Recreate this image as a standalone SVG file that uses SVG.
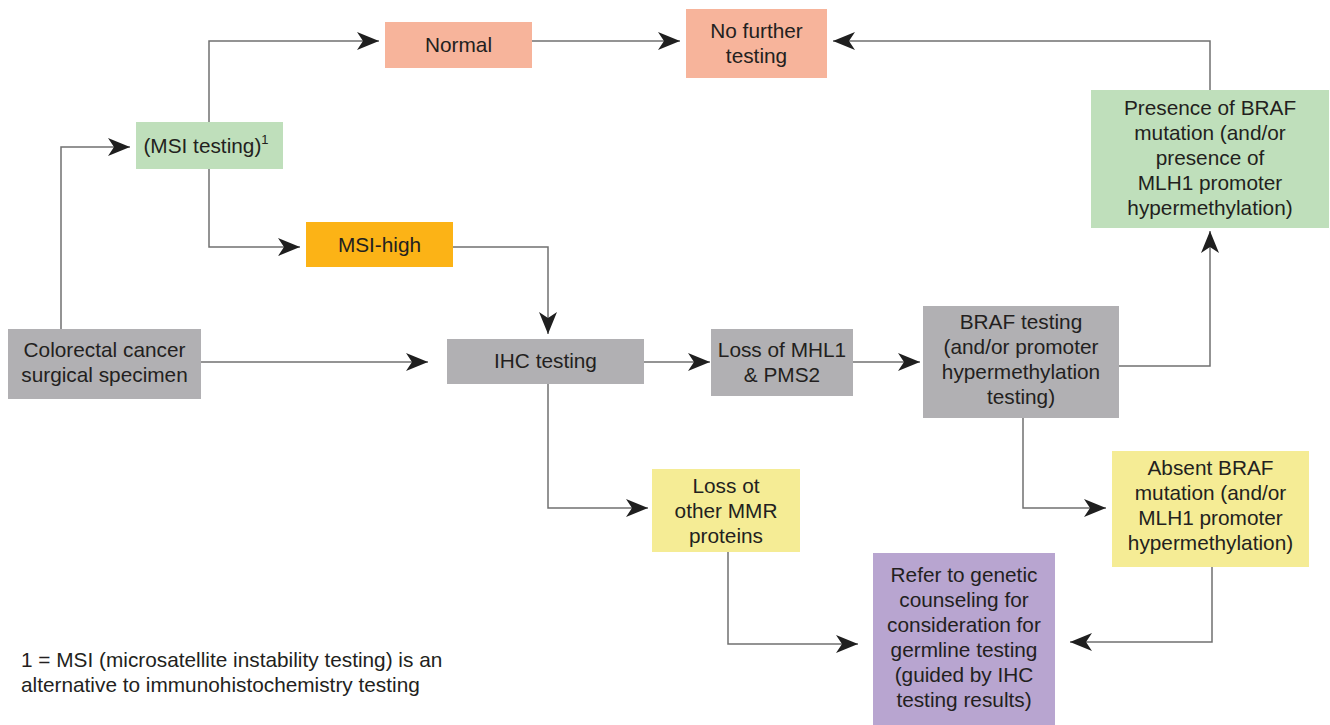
<svg xmlns="http://www.w3.org/2000/svg" width="1330" height="725" viewBox="0 0 1330 725">
<defs>
<marker id="ah" markerUnits="userSpaceOnUse" markerWidth="24" markerHeight="20" refX="22" refY="9" orient="auto">
<path d="M0,0 L22,9 L0,18 L6,9 z" fill="#1f1f1f"/>
</marker>
<style>
text{font-family:"Liberation Sans",Arial,sans-serif;font-size:20.8px;fill:#231f20;text-anchor:middle}
.gray{fill:#b1b0b3}.green{fill:#bfdfbb}.salmon{fill:#f7b49b}.orange{fill:#fcb316}.yellow{fill:#f5ec95}.purple{fill:#b8a5d0}
.c{fill:none;stroke:#707070;stroke-width:1.5;marker-end:url(#ah)}
.note{text-anchor:start}
</style>
</defs>
<rect width="1330" height="725" fill="#fff"/>
<g id="connectors">
<path class="c" d="M61,329 V147 H130"/>
<path class="c" d="M209,122 V41 H379"/>
<path class="c" d="M209,169 V247 H300"/>
<path class="c" d="M453,247 H548 V334"/>
<path class="c" d="M532,41 H680"/>
<path class="c" d="M1210,90 V41 H833"/>
<path class="c" d="M201,362 H428"/>
<path class="c" d="M644,362 H710"/>
<path class="c" d="M853,362 H920"/>
<path class="c" d="M1119,366 H1210 V231"/>
<path class="c" d="M548,384 V508 H648"/>
<path class="c" d="M1023,418 V508 H1106"/>
<path class="c" d="M728,552 V644 H858"/>
<path class="c" d="M1212,567 V642 H1070"/>
</g>
<g id="normal"><rect class="salmon" x="385" y="22" width="147" height="46"/><text x="458.5" y="52">Normal</text></g>
<g id="nofurther"><rect class="salmon" x="686" y="9" width="141" height="69"/><text x="756.5" y="38">No further</text><text x="756.5" y="63">testing</text></g>
<g id="msi"><rect class="green" x="136" y="122" width="147" height="47"/><text x="206" y="153">(MSI testing)<tspan dy="-9" font-size="13">1</tspan></text></g>
<g id="msihigh"><rect class="orange" x="306" y="222" width="147" height="45"/><text x="379.5" y="252">MSI-high</text></g>
<g id="presence"><rect class="green" x="1091" y="90" width="238" height="138"/>
<text x="1210" y="115">Presence of BRAF</text><text x="1210" y="140">mutation (and/or</text><text x="1210" y="165">presence of</text><text x="1210" y="190">MLH1 promoter</text><text x="1210" y="215">hypermethylation)</text></g>
<g id="colorectal"><rect class="gray" x="8" y="329" width="193" height="70"/><text x="104.5" y="357">Colorectal cancer</text><text x="104.5" y="382">surgical specimen</text></g>
<g id="ihc"><rect class="gray" x="447" y="339" width="197" height="45"/><text x="545.5" y="368">IHC testing</text></g>
<g id="lossmhl1"><rect class="gray" x="711" y="329" width="142" height="67"/><text x="782" y="357">Loss of MHL1</text><text x="782" y="382">&amp; PMS2</text></g>
<g id="braf"><rect class="gray" x="923" y="306" width="196" height="112"/>
<text x="1021" y="329">BRAF testing</text><text x="1021" y="354">(and/or promoter</text><text x="1021" y="379">hypermethylation</text><text x="1021" y="404">testing)</text></g>
<g id="lossother"><rect class="yellow" x="652" y="469" width="148" height="83"/>
<text x="726" y="493">Loss ot</text><text x="726" y="518">other MMR</text><text x="726" y="543">proteins</text></g>
<g id="absent"><rect class="yellow" x="1112" y="451" width="197" height="116"/>
<text x="1210.5" y="475">Absent BRAF</text><text x="1210.5" y="500">mutation (and/or</text><text x="1210.5" y="525">MLH1 promoter</text><text x="1210.5" y="550">hypermethylation)</text></g>
<g id="refer"><rect class="purple" x="873" y="553" width="182" height="172"/>
<text x="964" y="582">Refer to genetic</text><text x="964" y="607">counseling for</text><text x="964" y="632">consideration for</text><text x="964" y="657">germline testing</text><text x="964" y="682">(guided by IHC</text><text x="964" y="707">testing results)</text></g>
<g id="footnote"><text class="note" x="21" y="667">1 = MSI (microsatellite instability testing) is an</text><text class="note" x="21" y="692">alternative to immunohistochemistry testing</text></g>
</svg>
